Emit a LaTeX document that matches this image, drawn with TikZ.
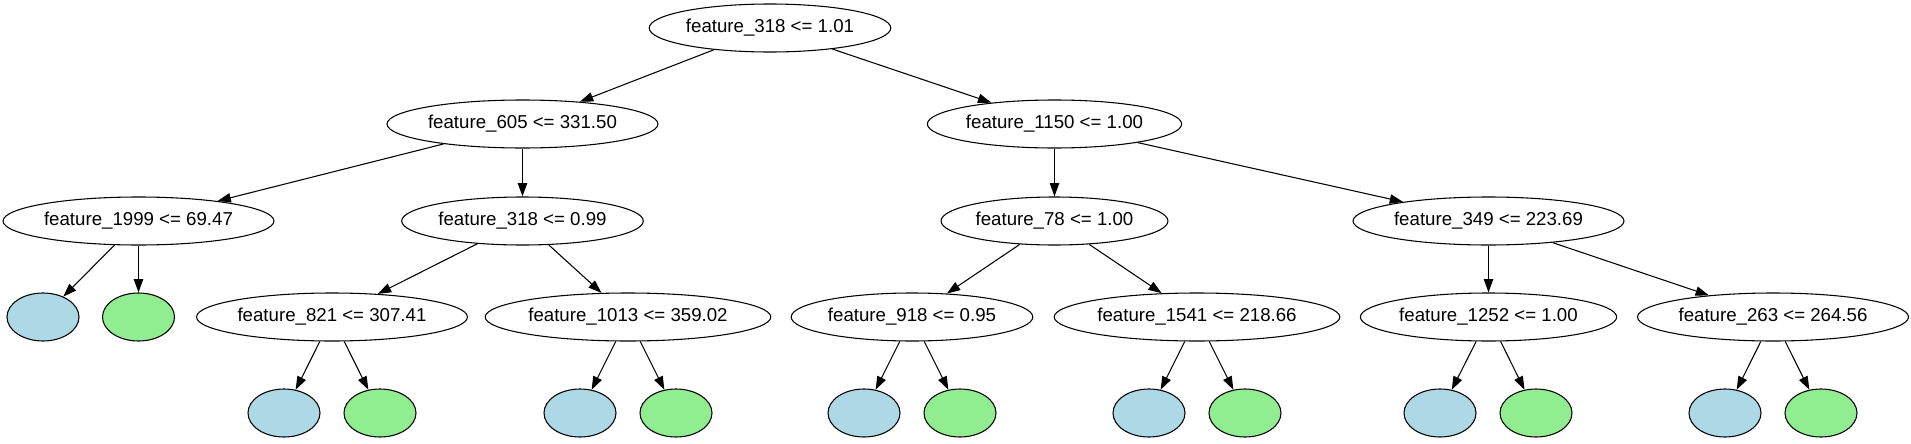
\documentclass[tikz,border=0pt]{standalone}
\usepackage{fontspec}
\setmainfont{Liberation Sans}
\usetikzlibrary{shapes.geometric,arrows.meta}

\begin{document}
\begin{tikzpicture}[x=0.75pt,y=-0.75pt,
  every node/.style = {shape=ellipse, draw, line width=0.8pt,
    minimum height=36pt, inner xsep=1pt, font=\fontsize{14pt}{16pt}\selectfont},
  leafl/.style = {minimum width=54pt, fill={rgb,255:red,173;green,216;blue,230}},
  leafr/.style = {minimum width=54pt, fill={rgb,255:red,144;green,238;blue,144}},
  arr/.style = {-{Triangle[length=10pt,width=7pt]}, line width=0.8pt}]
  \useasboundingbox (0,0) rectangle (1911,443);
  % splits
  \node (root) at (770,28) {feature\_318 <= 1.01};
  \node (n605) at (522.5,124) {feature\_605 <= 331.50};
  \node (n1150) at (1054.5,124) {feature\_1150 <= 1.00};
  \node (n1999) at (138.5,221) {feature\_1999 <= 69.47};
  \node (n318) at (522.5,221) {feature\_318 <= 0.99};
  \node (n78) at (1054.5,221) {feature\_78 <= 1.00};
  \node (n349) at (1488.5,221) {feature\_349 <= 223.69};
  \node (n821) at (332,317) {feature\_821 <= 307.41};
  \node (n1013) at (628,317) {feature\_1013 <= 359.02};
  \node (n918) at (912,317) {feature\_918 <= 0.95};
  \node (n1541) at (1197,317) {feature\_1541 <= 218.66};
  \node (n1252) at (1488.5,317) {feature\_1252 <= 1.00};
  \node (n263) at (1773,317) {feature\_263 <= 264.56};
  % leaves
  \node[leafl] (l1999) at (43,317) {};
  \node[leafr] (r1999) at (138.5,317) {};
  \node[leafl] (l821) at (284,413) {};
  \node[leafr] (r821) at (380,413) {};
  \node[leafl] (l1013) at (580,413) {};
  \node[leafr] (r1013) at (676,413) {};
  \node[leafl] (l918) at (864,413) {};
  \node[leafr] (r918) at (960,413) {};
  \node[leafl] (l1541) at (1149,413) {};
  \node[leafr] (r1541) at (1245,413) {};
  \node[leafl] (l1252) at (1440,413) {};
  \node[leafr] (r1252) at (1536,413) {};
  \node[leafl] (l263) at (1725,413) {};
  \node[leafr] (r263) at (1821,413) {};
  % edges
  \path[arr] (root) edge (n605) edge (n1150)
    (n605) edge (n1999) edge (n318)
    (n1150) edge (n78) edge (n349)
    (n1999) edge (l1999) edge (r1999)
    (n318) edge (n821) edge (n1013)
    (n78) edge (n918) edge (n1541)
    (n349) edge (n1252) edge (n263)
    (n821) edge (l821) edge (r821)
    (n1013) edge (l1013) edge (r1013)
    (n918) edge (l918) edge (r918)
    (n1541) edge (l1541) edge (r1541)
    (n1252) edge (l1252) edge (r1252)
    (n263) edge (l263) edge (r263);
\end{tikzpicture}
\end{document}
